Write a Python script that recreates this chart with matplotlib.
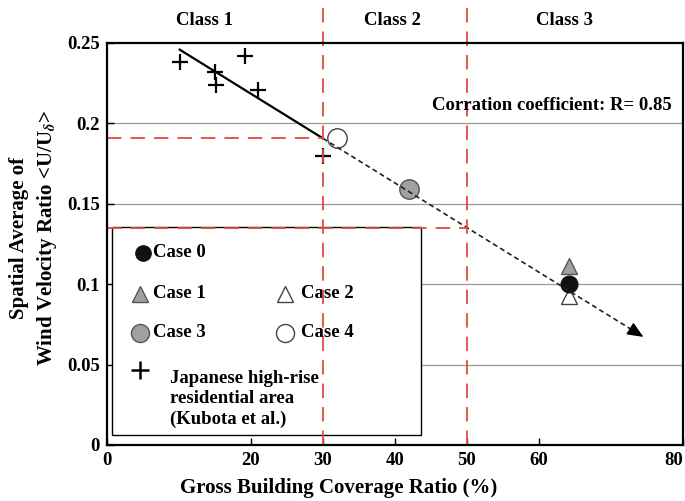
import numpy as np
import matplotlib
matplotlib.use("Agg")
import matplotlib.pyplot as plt
from matplotlib.patches import Rectangle

plt.rcParams["font.family"] = ["Liberation Serif", "DejaVu Serif"]
plt.rcParams["font.weight"] = "bold"
plt.rcParams["mathtext.fontset"] = "stix"
plt.rcParams["font.size"] = 13.5

# Japanese high-rise residential area (Kubota et al.)
kubota_x = [10.1, 15.0, 15.1, 19.2, 21.0, 30.0]
kubota_y = [0.238, 0.232, 0.224, 0.242, 0.221, 0.180]

# simulation cases
case_names = ["Case 0", "Case 1", "Case 2", "Case 3", "Case 4"]
case_x = [64.1, 64.1, 64.1, 42.0, 31.9]
case_y = [0.1004, 0.111, 0.0925, 0.159, 0.191]

class_bounds = [30, 50]
class_labels = ["Class 1", "Class 2", "Class 3"]
class_label_x = [13.6, 39.7, 63.6]
arrow_end_x = 74.5

xticks = [0, 20, 30, 40, 50, 60, 80]
xticklabels = ["0", "20", "30", "40", "50", "60", "80"]
yticks = [0, 0.05, 0.1, 0.15, 0.2, 0.25]
yticklabels = ["0", "0.05", "0.1", "0.15", "0.2", "0.25"]

red = "#e04a3f"

fig = plt.figure(figsize=(6.85, 5.01), dpi=100)
ax = fig.add_axes([0.1562, 0.1118, 0.8409, 0.8024])
ax.set_xlim(0, 80)
ax.set_ylim(0, 0.25)

# horizontal grid
for yv in yticks[1:-1]:
    ax.axhline(yv, color="#999999", lw=0.9, zorder=0.5)

# regression of the Kubota data
slope, icpt = np.polyfit(kubota_x, kubota_y, 1)
fit = lambda x: slope * x + icpt
xs = np.array([min(kubota_x), class_bounds[0]])
ax.plot(xs, fit(xs), color="black", lw=1.6, zorder=5)
xd = np.array([class_bounds[0], arrow_end_x - 1.2])
ax.plot(xd, fit(xd), color="#222222", lw=1.2, ls=(0, (3, 2)), zorder=6)
ax.annotate("", xy=(arrow_end_x, fit(arrow_end_x)),
            xytext=(arrow_end_x - 1.8, fit(arrow_end_x - 1.8)),
            arrowprops=dict(arrowstyle="-|>,head_length=0.7,head_width=0.3",
                            fc="black", ec="black", lw=1,
                            mutation_scale=14, shrinkA=0, shrinkB=0),
            zorder=6)

# class boundaries
for b in class_bounds:
    ax.axvline(b, ymin=0, ymax=1.11, color=red, lw=1.3, ls=(0, (8, 5)),
               clip_on=False, zorder=7)
    ax.plot([0, b], [fit(b), fit(b)], color=red, lw=1.3, ls=(0, (8, 5)), zorder=7)

for lab, lx in zip(class_labels, class_label_x):
    ax.text(lx, 1.057, lab, transform=ax.get_xaxis_transform(), ha="center",
            va="center", fontsize=13.5, fontweight="bold")

# data points
ax.plot(kubota_x, kubota_y, ls="none", marker="+", ms=11, mew=1.6, color="black", zorder=5)
styles = {
    "Case 0": dict(marker="o", ms=12, mfc="#111111", mec="#111111"),
    "Case 1": dict(marker="^", ms=12, mfc="#a0a0a0", mec="#555555"),
    "Case 2": dict(marker="^", ms=12, mfc="white", mec="#444444"),
    "Case 3": dict(marker="o", ms=14, mfc="#a0a0a0", mec="#555555"),
    "Case 4": dict(marker="o", ms=14, mfc="white", mec="#444444"),
}
order = {"Case 0": 5.5, "Case 1": 5, "Case 2": 5, "Case 3": 5, "Case 4": 5}
for name, x, y in zip(case_names, case_x, case_y):
    ax.plot([x], [y], ls="none", mew=1, zorder=order[name], **styles[name])

ax.text(0.98, 0.845, "Corration coefficient: R= 0.85", transform=ax.transAxes,
        ha="right", va="center", fontsize=13.5, fontweight="bold", zorder=8)

# legend box
ax.add_patch(Rectangle((0.0087, 0.0249), 0.5365, 0.5174, transform=ax.transAxes,
                       facecolor="white", edgecolor="black", lw=1.0, zorder=3))
leg_pos = {
    "Case 0": (0.0625, 0.4776, 0.0799),
    "Case 1": (0.0573, 0.3756, 0.0799),
    "Case 2": (0.309, 0.3756, 0.3368),
    "Case 3": (0.0573, 0.2786, 0.0799),
    "Case 4": (0.309, 0.2786, 0.3368),
}
for name, (mx, my, tx) in leg_pos.items():
    st = dict(styles[name])
    st["ms"] = st["ms"] - 1
    ax.plot([mx], [my], ls="none", mew=1, transform=ax.transAxes, zorder=4, **st)
    ax.text(tx, my, name, transform=ax.transAxes, ha="left", va="center",
            fontsize=13.5, fontweight="bold", zorder=4)
ax.plot([0.0573], [0.1866], ls="none", marker="+", ms=13, mew=1.8, color="black",
        transform=ax.transAxes, zorder=4)
ax.text(0.1094, 0.1866, "Japanese high-rise\nresidential area\n(Kubota et al.)",
        transform=ax.transAxes, ha="left", va="top", fontsize=13.5,
        fontweight="bold", linespacing=1.25, zorder=4)

# axes styling
for sp in ax.spines.values():
    sp.set_linewidth(1.6)
    sp.set_zorder(9)
ax.set_xticks(xticks)
ax.set_xticklabels(xticklabels)
ax.set_yticks(yticks)
ax.set_yticklabels(yticklabels)
ax.tick_params(direction="in", length=5, width=1, labelsize=13.5, pad=5)
for t in ax.get_xticklabels() + ax.get_yticklabels():
    t.set_fontweight("bold")
ax.get_xticklabels()[-1].set_horizontalalignment("right")

fig.text(339 / 685, 1 - 488 / 501, "Gross Building Coverage Ratio (%)",
         ha="center", va="center", fontsize=15, fontweight="bold")
fig.text(34 / 685, 1 - 238 / 501, "Spatial Average of\nWind Velocity Ratio <U/U$_\\delta$>",
         rotation=90, ha="center", va="center", multialignment="center",
         fontsize=15, fontweight="bold", linespacing=1.3)

fig.savefig("out.png", dpi=100)
